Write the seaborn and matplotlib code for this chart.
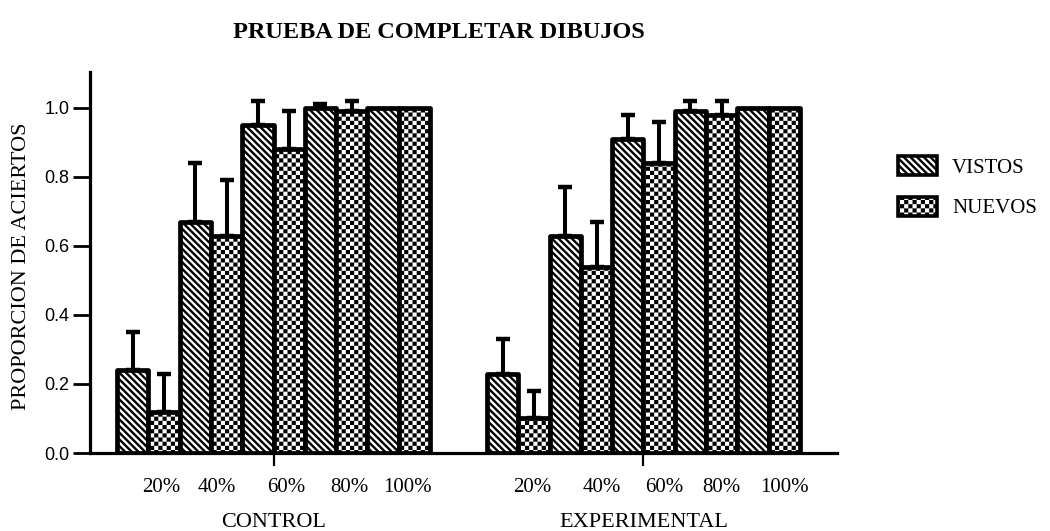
import numpy as np
import pandas as pd
import matplotlib
matplotlib.use("Agg")
import matplotlib.pyplot as plt
import matplotlib.hatch as mhatch
from matplotlib.path import Path
from matplotlib.patches import Patch
import seaborn as sns

# ---------------------------------------------------------------- data
groups = ["CONTROL", "EXPERIMENTAL"]
levels = ["20%", "40%", "60%", "80%", "100%"]
conditions = ["VISTOS", "NUEVOS"]

control_vistos = [0.24, 0.67, 0.95, 1.00, 1.00]
control_vistos_err = [0.11, 0.17, 0.07, 0.01, 0.00]
control_nuevos = [0.12, 0.63, 0.88, 0.99, 1.00]
control_nuevos_err = [0.11, 0.16, 0.11, 0.03, 0.00]

exp_vistos = [0.23, 0.63, 0.91, 0.99, 1.00]
exp_vistos_err = [0.10, 0.14, 0.07, 0.03, 0.00]
exp_nuevos = [0.10, 0.54, 0.84, 0.98, 1.00]
exp_nuevos_err = [0.08, 0.13, 0.12, 0.04, 0.00]

yticks = [0.0, 0.2, 0.4, 0.6, 0.8, 1.0]

# ------------------------------------------------------------- layout
# horizontal placement of the percentage labels relative to each group centre
pct_offsets = {
    "CONTROL": [-0.304, -0.152, 0.034, 0.205, 0.362],
    "EXPERIMENTAL": [-0.300, -0.114, 0.057, 0.211, 0.381],
}


# ------------------------------------------------- checkerboard hatch
class CheckerHatch(mhatch.HatchPatternBase):
    """Filled checkerboard squares, selected with the 'O' hatch character."""
    filled = True

    def __init__(self, hatch, density):
        self.num_cells = int(hatch.count("O") * density)
        n = self.num_cells
        self.cells = [(i, j) for i in range(n) for j in range(n) if (i + j) % 2 == 0]
        self.num_vertices = len(self.cells) * 5 if n else 0

    def set_vertices_and_codes(self, vertices, codes):
        s = 1.0 / self.num_cells
        inset = plt.rcParams["hatch.linewidth"] / 72.0 / 2.0
        k = 0
        for i, j in self.cells:
            x0, y0 = i * s + inset, j * s + inset
            x1, y1 = (i + 1) * s - inset, (j + 1) * s - inset
            vertices[k:k + 5] = [(x0, y0), (x1, y0), (x1, y1), (x0, y1), (x0, y0)]
            codes[k:k + 5] = [Path.MOVETO, Path.LINETO, Path.LINETO,
                              Path.LINETO, Path.CLOSEPOLY]
            k += 5


mhatch._hatch_types = [t for t in mhatch._hatch_types
                       if t is not mhatch.LargeCircles] + [CheckerHatch]

HATCHES = {"VISTOS": "\\" * 5, "NUEVOS": "OOOO"}

# ------------------------------------------------------------- frame
sns.set_style("white")
plt.rcParams["font.family"] = ["Liberation Serif", "DejaVu Serif"]
plt.rcParams["hatch.linewidth"] = 1.7
plt.rcParams["hatch.color"] = "black"
for key in ("text.color", "axes.labelcolor", "xtick.color", "ytick.color"):
    plt.rcParams[key] = "black"

rows = []
series = {
    ("CONTROL", "VISTOS"): (control_vistos, control_vistos_err),
    ("CONTROL", "NUEVOS"): (control_nuevos, control_nuevos_err),
    ("EXPERIMENTAL", "VISTOS"): (exp_vistos, exp_vistos_err),
    ("EXPERIMENTAL", "NUEVOS"): (exp_nuevos, exp_nuevos_err),
}
for (grp, cond), (vals, errs) in series.items():
    for lev, v, e in zip(levels, vals, errs):
        rows.append({"grupo": grp, "slot": f"{lev} {cond}", "cond": cond,
                     "prop": v, "err": e})
df = pd.DataFrame(rows)
slots = [f"{lev} {cond}" for lev in levels for cond in conditions]

fig = plt.figure(figsize=(10.5, 5.31), dpi=100)
ax = fig.add_axes([90 / 1050, 78 / 531, 747 / 1050, 381 / 531])

sns.barplot(data=df, x="grupo", y="prop", hue="slot", order=groups,
            hue_order=slots, palette={s: "white" for s in slots},
            saturation=1, width=0.846, errorbar=None, legend=False,
            edgecolor="black", linewidth=3.4, ax=ax)

for slot, container in zip(slots, ax.containers):
    cond = slot.split(" ")[1]
    xs, hs, es = [], [], []
    for grp, bar in zip(groups, container):
        bar.set_hatch(HATCHES[cond])
        bar.set_joinstyle("round")
        bar.set_zorder(2)
        err = df[(df.grupo == grp) & (df.slot == slot)]["err"].iloc[0]
        if err > 0:
            xs.append(bar.get_x() + bar.get_width() / 2)
            hs.append(bar.get_height())
            es.append(err)
    if xs:
        _, caps, _ = ax.errorbar(xs, hs, yerr=[np.zeros(len(es)), es],
                                 fmt="none", ecolor="black", elinewidth=2.9,
                                 capsize=5, capthick=3.2, zorder=1)

# -------------------------------------------------------------- axes
ax.set_xlim(-0.496, 1.523)
ax.set_ylim(0, 1.104)
sns.despine(ax=ax)
for side in ("left", "bottom"):
    ax.spines[side].set_linewidth(2.3)
    ax.spines[side].set_color("black")
    ax.spines[side].set_zorder(3)

ax.set_yticks(yticks)
ax.set_yticklabels([f"{t:.1f}" for t in yticks], fontfamily="Liberation Sans",
                   fontsize=13)
ax.tick_params(axis="y", direction="out", length=12, width=2, color="black",
               left=True, pad=3)
ax.tick_params(axis="x", direction="out", length=9, width=1.6, color="black",
               bottom=True, pad=34, labelsize=16)
ax.set_xlabel("")
ax.set_ylabel("PROPORCION DE ACIERTOS", fontsize=16)
ax.yaxis.set_label_coords(-0.079, 0.49)

xtrans = ax.get_xaxis_transform()
for gi, grp in enumerate(groups):
    for lev, off in zip(levels, pct_offsets[grp]):
        ax.text(gi + off, -0.09, lev, transform=xtrans, ha="center",
                va="center", fontsize=15)

fig.text(439 / 1050, 1 - 32 / 531, "PRUEBA DE COMPLETAR DIBUJOS",
         ha="center", va="center", fontsize=17.5, fontweight="bold")

handles = [Patch(facecolor="white", edgecolor="black", hatch=HATCHES[c],
                 linewidth=2.6, joinstyle="round", label=c)
           for c in conditions]
fig.legend(handles=handles, loc="upper left",
           bbox_to_anchor=(898 / 1050, 1 - 156 / 531), frameon=False,
           borderpad=0, borderaxespad=0, fontsize=15, handlelength=1.87,
           handleheight=1.05, handletextpad=0.72, labelspacing=0.9)

fig.savefig("out.png", dpi=100, facecolor="white")
